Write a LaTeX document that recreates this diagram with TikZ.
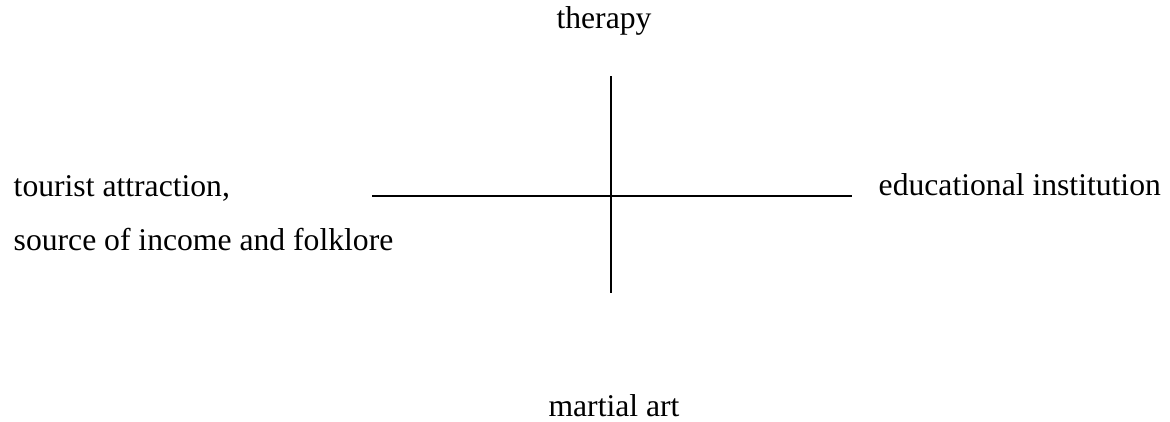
\documentclass[tikz,border=0pt]{standalone}
\usepackage{fontspec}
\setmainfont{Liberation Serif}
\usepackage{tikz}
\usetikzlibrary{positioning}
\tikzset{
    axislabel/.style={inner sep=0pt, font=\fontsize{9}{11}\selectfont},
    axisline/.style={line width=0.6pt, black},
}

\begin{document}
\begin{tikzpicture}[x=0.01cm, y=-0.01cm]
        \useasboundingbox (0,0) rectangle (1170,421);
        \coordinate (north) at (611,76);
        \coordinate (south) at (611,293);
        \coordinate (west) at (372,196);
        \coordinate (east) at (852,196);
        \draw[axisline] (north) -- (south);
        \draw[axisline] (west) -- (east);
        \node (therapy) [axislabel, anchor=base] at (604,28) {therapy};
        \node (martial) [axislabel, anchor=base] at (614,416) {martial art};
        \node (tourist) [axislabel, anchor=base west] at (13,196) {tourist attraction,};
        \node (income) [axislabel, anchor=base west] at (13,250) {source of income and folklore};
        \node (education) [axislabel, anchor=base west] at (878,195) {educational institution};
    \end{tikzpicture}
\end{document}
